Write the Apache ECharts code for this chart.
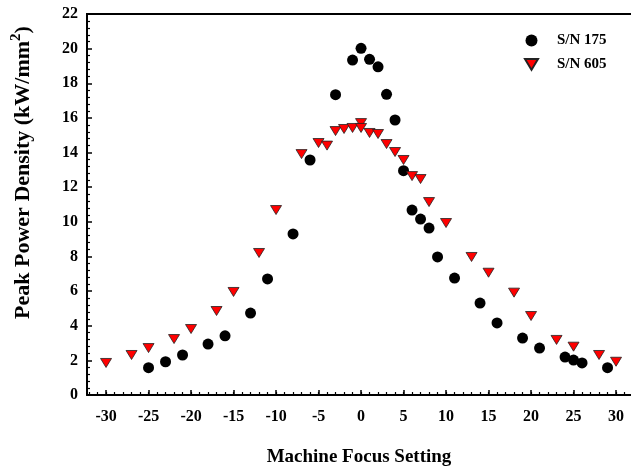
<!DOCTYPE html>
<html>
<head>
<meta charset="utf-8">
<script src="https://cdn.jsdelivr.net/npm/echarts@6/dist/echarts.min.js"></script>
<style>html,body{margin:0;padding:0;background:#fff}#c{width:631px;height:476px}</style>
</head>
<body>
<div id="c"></div>
<script>
var sn175X = [-25,-23,-21,-18,-16,-13,-11,-8,-6,-3,-1,0,1,2,3,4,5,6,7,8,9,11,14,16,19,21,24,25,26,29];
var sn175Y = [1.58,1.92,2.31,2.94,3.42,4.73,6.7,9.3,13.57,17.34,19.34,20.02,19.38,18.95,17.36,15.88,12.95,10.68,10.16,9.64,7.97,6.75,5.31,4.16,3.29,2.71,2.19,2.02,1.85,1.58];
var sn605X = [-30,-27,-25,-22,-20,-17,-15,-12,-10,-7,-5,-4,-3,-2,-1,0,0,1,2,3,4,5,6,7,8,10,13,15,18,20,23,25,28,30];
var sn605Y = [1.85,2.31,2.71,3.23,3.81,4.85,5.95,8.2,10.68,13.91,14.55,14.4,15.24,15.36,15.42,15.7,15.42,15.13,15.07,14.49,14.03,13.57,12.64,12.47,11.14,9.93,7.97,7.06,5.91,4.56,3.18,2.79,2.31,1.92];
var seriesNames = ['S/N 175', 'S/N 605'];
var xTickLabels = [-30,-25,-20,-15,-10,-5,0,5,10,15,20,25,30];
var xRange = {min: -32.24, max: 31.76};
var yTicks = {min: 0, max: 22, interval: 2};

function pairs(xs, ys) { return xs.map(function (x, i) { return [x, ys[i]]; }); }
var xMinorTicks = [];
for (var t = -32; t <= 31; t++) xMinorTicks.push(t);

var font = 'Liberation Serif';
var chart = echarts.init(document.getElementById('c'));
chart.setOption({
  animation: false,
  backgroundColor: '#fff',
  grid: {left: 87, top: 14, right: 0, height: 381, containLabel: false},
  legend: {
    orient: 'vertical', left: 519, top: 28, itemGap: 9, itemWidth: 13, itemHeight: 12,
    textStyle: {fontFamily: font, fontWeight: 'bold', fontSize: 15, color: '#000', padding: [0, 0, 0, 14]},
    data: [
      {name: seriesNames[0], icon: 'circle'},
      {name: seriesNames[1], icon: 'path://M0,0L12,0L6,10Z'}
    ]
  },
  xAxis: [{
    type: 'value', min: xRange.min, max: xRange.max,
    name: 'Machine Focus Setting', nameLocation: 'middle', nameGap: 53,
    nameTextStyle: {fontFamily: font, fontWeight: 'bold', fontSize: 19, color: '#000'},
    axisLine: {onZero: false, lineStyle: {color: '#000', width: 2}},
    axisTick: {inside: true, length: 5, lineStyle: {color: '#000', width: 1.5}, customValues: xTickLabels},
    axisLabel: {fontFamily: font, fontWeight: 'bold', fontSize: 16, color: '#000', margin: 14, customValues: xTickLabels},
    splitLine: {show: false}
  }, {
    type: 'value', min: xRange.min, max: xRange.max, position: 'bottom',
    axisLine: {onZero: false, show: false},
    axisTick: {inside: true, length: 3, lineStyle: {color: '#000', width: 1.2}, customValues: xMinorTicks},
    axisLabel: {show: false, customValues: xMinorTicks},
    splitLine: {show: false}
  }],
  yAxis: {
    type: 'value', min: yTicks.min, max: yTicks.max, interval: yTicks.interval,
    name: '{a|Peak Power Density (kW/mm}{s|2}{a|)}', nameLocation: 'middle', nameGap: 49, nameRotate: 90,
    nameTextStyle: {
      padding: [0, 0, 0, 64],
      rich: {
        a: {fontFamily: font, fontWeight: 'bold', fontSize: 22, color: '#000'},
        s: {fontFamily: font, fontWeight: 'bold', fontSize: 15, color: '#000', padding: [0, 0, 14, 0]}
      }
    },
    axisLine: {onZero: false, lineStyle: {color: '#000', width: 2}},
    axisTick: {inside: true, length: 5, lineStyle: {color: '#000', width: 1.5}},
    minorTick: {show: true, splitNumber: 5, length: 3, lineStyle: {color: '#000', width: 1.2}},
    axisLabel: {fontFamily: font, fontWeight: 'bold', fontSize: 16, color: '#000', margin: 9},
    splitLine: {show: false}
  },
  graphic: [{type: 'line', shape: {x1: 86, y1: 14, x2: 631, y2: 14}, style: {stroke: '#000', lineWidth: 2}}],
  series: [
    {name: seriesNames[0], type: 'scatter', data: pairs(sn175X, sn175Y), symbol: 'circle', symbolSize: 11,
      itemStyle: {color: '#000', opacity: 1}},
    {name: seriesNames[1], type: 'scatter', data: pairs(sn605X, sn605Y), symbol: 'triangle', symbolRotate: 180,
      symbolSize: [11, 9], itemStyle: {color: '#ff0000', borderColor: '#222', borderWidth: 0.8, opacity: 1}}
  ]
});
</script>
</body>
</html>
